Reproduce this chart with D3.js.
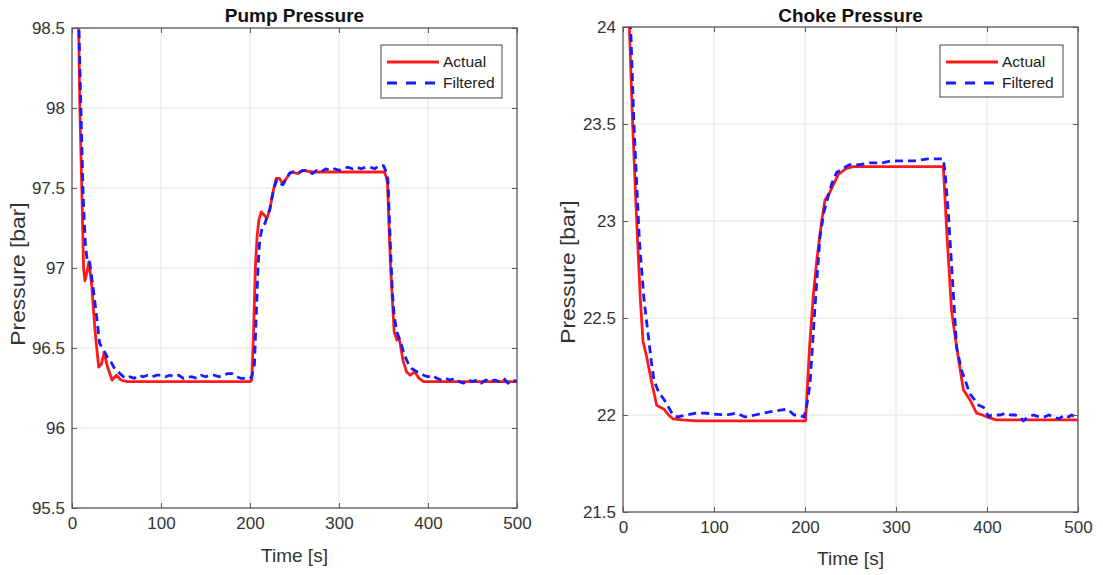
<!DOCTYPE html>
<html>
<head>
<meta charset="utf-8">
<script src="https://cdn.jsdelivr.net/npm/d3@7"></script>
<style>
  body { margin: 0; background: #fff; }
  svg { display: block; font-family: "Liberation Sans", Arial, sans-serif; }
</style>
</head>
<body>
<svg id="chart" width="1103" height="575"></svg>
<script>
// ---------------- Data ----------------
const xTicks = [0, 100, 200, 300, 400, 500];
const pumpYTicks = [95.5, 96, 96.5, 97, 97.5, 98, 98.5];
const chokeYTicks = [21.5, 22, 22.5, 23, 23.5, 24];
const seriesNames = ["Actual", "Filtered"];

const pumpActualT = [4, 7.5, 8.8, 11, 13, 14.5, 17, 19, 22, 26, 30, 33, 36, 40, 45, 50, 55, 62, 80, 120, 160, 200, 202, 204, 206, 208, 210, 212.6, 216, 219, 222, 226, 229.5, 233, 236.6, 241, 246, 254, 259, 270, 300, 330, 351, 353, 354.5, 356.5, 358, 360, 362, 365, 367, 369, 372, 376, 380, 385, 390, 395, 400, 450, 500];
const pumpActualV = [99.3, 98.5, 98.0, 97.5, 97.0, 96.92, 96.98, 97.04, 96.9, 96.6, 96.38, 96.4, 96.47, 96.38, 96.3, 96.33, 96.3, 96.29, 96.29, 96.29, 96.29, 96.29, 96.3, 96.6, 97.0, 97.2, 97.3, 97.35, 97.33, 97.31, 97.36, 97.48, 97.56, 97.56, 97.53, 97.56, 97.6, 97.59, 97.61, 97.6, 97.6, 97.6, 97.6, 97.57, 97.53, 97.22, 97.0, 96.8, 96.6, 96.55, 96.57, 96.52, 96.42, 96.35, 96.33, 96.35, 96.31, 96.29, 96.29, 96.29, 96.29];

const pumpFiltT = [5, 7.8, 10, 12.5, 15, 17, 19.5, 22, 25, 28, 31, 34, 37, 40, 44, 48, 52, 56, 60, 65, 70, 75, 80, 85, 90, 95, 100, 105, 110, 115, 120, 125, 130, 135, 140, 145, 150, 155, 160, 165, 170, 175, 180, 185, 190, 195, 200, 202, 205, 207, 209, 211, 214, 217, 220, 222, 224, 227, 230, 233, 237, 240, 244, 248, 252, 256, 260, 265, 270, 275, 280, 285, 290, 295, 300, 305, 310, 315, 320, 325, 330, 335, 340, 345, 350, 353, 355, 357, 358.4, 360, 362, 365, 367, 370, 374, 378, 382, 388, 395, 400, 405, 410, 415, 420, 425, 430, 435, 440, 445, 450, 455, 460, 465, 470, 475, 480, 485, 490, 495, 500];
const pumpFiltV = [99.3, 98.5, 98.0, 97.45, 97.15, 97.05, 97.05, 96.95, 96.82, 96.68, 96.53, 96.5, 96.47, 96.44, 96.41, 96.37, 96.35, 96.33, 96.31, 96.32, 96.31, 96.33, 96.32, 96.33, 96.32, 96.33, 96.33, 96.32, 96.33, 96.32, 96.33, 96.31, 96.32, 96.32, 96.31, 96.33, 96.32, 96.33, 96.33, 96.32, 96.33, 96.34, 96.34, 96.32, 96.31, 96.31, 96.31, 96.32, 96.4, 96.7, 97.0, 97.18, 97.26, 97.28, 97.34, 97.36, 97.42, 97.5, 97.55, 97.53, 97.52, 97.55, 97.59, 97.6, 97.61, 97.6, 97.61, 97.61, 97.59, 97.61, 97.6, 97.62, 97.61, 97.62, 97.61, 97.62, 97.63, 97.62, 97.63, 97.62, 97.63, 97.63, 97.62, 97.64, 97.64, 97.6, 97.55, 97.25, 97.05, 96.85, 96.7, 96.6, 96.57, 96.52, 96.45, 96.4, 96.37, 96.35, 96.33, 96.32, 96.33, 96.31, 96.3, 96.31, 96.3, 96.31, 96.29, 96.28, 96.3, 96.29, 96.3, 96.28, 96.3, 96.29, 96.3, 96.29, 96.31, 96.28, 96.3, 96.29];

const chokeActualT = [5, 7, 10.6, 14, 17, 19, 22, 26, 31, 37, 45, 50, 55, 65, 80, 200.5, 201.5, 205, 209, 213, 218.3, 222, 227.5, 236.6, 245, 253, 300, 352, 353.5, 355.7, 361, 366.6, 370, 374, 381, 388.6, 395, 400, 410, 500];
const chokeActualV = [24.4, 24.0, 23.5, 23.11, 22.8, 22.6, 22.38, 22.3, 22.18, 22.05, 22.03, 22.0, 21.98, 21.975, 21.97, 21.97, 22.05, 22.35, 22.61, 22.8, 23.0, 23.11, 23.15, 23.24, 23.27, 23.28, 23.28, 23.28, 23.15, 22.95, 22.54, 22.35, 22.25, 22.13, 22.08, 22.01, 22.0, 21.99, 21.975, 21.975];

const chokeFiltT = [6, 8.4, 12, 15, 18, 20.5, 23, 25.5, 28, 31, 34, 39, 45, 50, 55, 60, 70, 80, 90, 100, 114, 125, 134, 145, 155, 165, 173, 181, 188, 193, 199, 202, 205.5, 211, 216.5, 221, 225.6, 230, 234.7, 241, 249, 260, 271, 285, 295, 307.7, 320, 335, 352, 354, 357.5, 361, 366.6, 372, 376, 381, 386, 391, 396, 402, 405, 410, 415, 420, 426, 431, 436, 440, 445, 451, 457, 463, 468, 473, 479, 485, 490, 493, 497, 500];
const chokeFiltV = [24.5, 24.0, 23.5, 23.2, 22.9, 22.75, 22.6, 22.5, 22.4, 22.28, 22.18, 22.12, 22.08, 22.04, 22.0, 21.99, 22.0, 22.01, 22.01, 22.005, 22.0, 22.01, 21.99, 22.0, 22.01, 22.02, 22.025, 22.03, 22.0, 22.0, 21.99, 22.05, 22.16, 22.56, 22.92, 23.05, 23.13, 23.2, 23.25, 23.27, 23.29, 23.29, 23.3, 23.3, 23.31, 23.31, 23.31, 23.32, 23.32, 23.25, 23.04, 22.78, 22.35, 22.23, 22.18, 22.11, 22.08, 22.05, 22.04, 21.99, 22.0, 22.0, 22.0, 22.01, 22.0, 22.0, 21.99, 21.97, 21.99, 22.0, 21.99, 21.99, 22.0, 21.99, 21.98, 22.0, 21.99, 22.0, 21.99, 22.0];

// ---------------- Drawing ----------------
const svg = d3.select("#chart");
svg.append("rect").attr("width", 1103).attr("height", 575).attr("fill", "#fff");

const panels = [
  { id: "pump", title: "Pump Pressure", x0: 72, x1: 517, y0: 28, y1: 508,
    yDomain: [95.5, 98.5], yTicks: pumpYTicks, yFmt: d => d3.format("")(d),
    actual: pumpActualT.map((t, i) => [t, pumpActualV[i]]),
    filt: pumpFiltT.map((t, i) => [t, pumpFiltV[i]]),
    legend: { x: 381, y: 45, w: 121, h: 53 },
    ylabX: 18, ylabY: 274, xlabY: 562 },
  { id: "choke", title: "Choke Pressure", x0: 623, x1: 1078, y0: 27, y1: 512,
    yDomain: [21.5, 24], yTicks: chokeYTicks, yFmt: d => d3.format("")(d),
    actual: chokeActualT.map((t, i) => [t, chokeActualV[i]]),
    filt: chokeFiltT.map((t, i) => [t, chokeFiltV[i]]),
    legend: { x: 940, y: 45, w: 123, h: 52 },
    ylabX: 568, ylabY: 272, xlabY: 565 }
];

const axisColor = "#5a5a5a";
const textColor = "#333";

panels.forEach(p => {
  const x = d3.scaleLinear().domain([0, 500]).range([p.x0, p.x1]);
  const y = d3.scaleLinear().domain(p.yDomain).range([p.y1, p.y0]);
  const g = svg.append("g");

  // grid
  g.append("g").selectAll("line.vg").data(xTicks).join("line")
    .attr("x1", d => x(d)).attr("x2", d => x(d)).attr("y1", p.y0).attr("y2", p.y1)
    .attr("stroke", "#e3e3e3").attr("stroke-width", 1);
  g.append("g").selectAll("line.hg").data(p.yTicks).join("line")
    .attr("x1", p.x0).attr("x2", p.x1).attr("y1", d => y(d)).attr("y2", d => y(d))
    .attr("stroke", "#e3e3e3").attr("stroke-width", 1);

  // clip
  svg.append("clipPath").attr("id", "clip-" + p.id).append("rect")
    .attr("x", p.x0).attr("y", p.y0).attr("width", p.x1 - p.x0).attr("height", p.y1 - p.y0);

  const line = d3.line().x(d => x(d[0])).y(d => y(d[1]));
  const plot = g.append("g").attr("clip-path", `url(#clip-${p.id})`);
  plot.append("path").datum(p.actual).attr("d", line)
    .attr("fill", "none").attr("stroke", "#ff1a1a").attr("stroke-width", 2.8)
    .attr("stroke-linejoin", "round");
  plot.append("path").datum(p.filt).attr("d", line)
    .attr("fill", "none").attr("stroke", "#1a1aff").attr("stroke-width", 2.8)
    .attr("stroke-dasharray", "8,5").attr("stroke-linejoin", "round");

  // axes
  const xAxis = d3.axisBottom(x).tickValues(xTicks).tickSize(-5).tickPadding(9).tickFormat(d3.format("d"));
  const xTop = d3.axisTop(x).tickValues(xTicks).tickSize(-5).tickFormat("");
  const yAxis = d3.axisLeft(y).tickValues(p.yTicks).tickSize(-5).tickPadding(7).tickFormat(p.yFmt);
  const yRight = d3.axisRight(y).tickValues(p.yTicks).tickSize(-5).tickFormat("");

  const styleAxis = sel => {
    sel.select(".domain").remove();
    sel.selectAll(".tick line").attr("stroke", axisColor);
    sel.selectAll(".tick text").attr("fill", textColor)
      .style("font-size", "17px").style("font-family", '"Liberation Sans", Arial, sans-serif');
  };
  g.append("g").attr("transform", `translate(0,${p.y1})`).call(xAxis).call(styleAxis);
  g.append("g").attr("transform", `translate(0,${p.y0})`).call(xTop).call(styleAxis);
  g.append("g").attr("transform", `translate(${p.x0},0)`).call(yAxis).call(styleAxis);
  g.append("g").attr("transform", `translate(${p.x1},0)`).call(yRight).call(styleAxis);

  g.append("rect").attr("x", p.x0).attr("y", p.y0)
    .attr("width", p.x1 - p.x0).attr("height", p.y1 - p.y0)
    .attr("fill", "none").attr("stroke", axisColor).attr("stroke-width", 1.3);

  // title
  g.append("text").attr("x", (p.x0 + p.x1) / 2).attr("y", 22)
    .attr("text-anchor", "middle").attr("font-weight", "bold")
    .attr("font-size", 19).attr("fill", "#111").text(p.title);

  // axis labels
  g.append("text").attr("x", (p.x0 + p.x1) / 2).attr("y", p.xlabY)
    .attr("text-anchor", "middle").attr("font-size", 19).attr("fill", textColor).text("Time [s]");
  g.append("text").attr("transform", `translate(${p.ylabX},${p.ylabY}) rotate(-90) scale(1.17,1)`)
    .attr("text-anchor", "middle").attr("dy", "0.35em").attr("font-size", 19.5)
    .attr("fill", textColor).text("Pressure [bar]");

  // legend
  const L = p.legend;
  const lg = g.append("g");
  lg.append("rect").attr("x", L.x).attr("y", L.y).attr("width", L.w).attr("height", L.h)
    .attr("fill", "#fff").attr("stroke", "#444").attr("stroke-width", 1);
  const rows = [
    { name: seriesNames[0], color: "#ff1a1a", dash: null, y: L.y + 17 },
    { name: seriesNames[1], color: "#1a1aff", dash: "10,9", y: L.y + 38 }
  ];
  rows.forEach(r => {
    lg.append("line").attr("x1", L.x + 6).attr("x2", L.x + 58)
      .attr("y1", r.y).attr("y2", r.y).attr("stroke", r.color).attr("stroke-width", 2.8)
      .attr("stroke-dasharray", r.dash);
    lg.append("text").attr("x", L.x + 62).attr("y", r.y).attr("dy", "0.35em")
      .attr("font-size", 15.5).attr("fill", "#222").text(r.name);
  });
});
</script>
</body>
</html>
